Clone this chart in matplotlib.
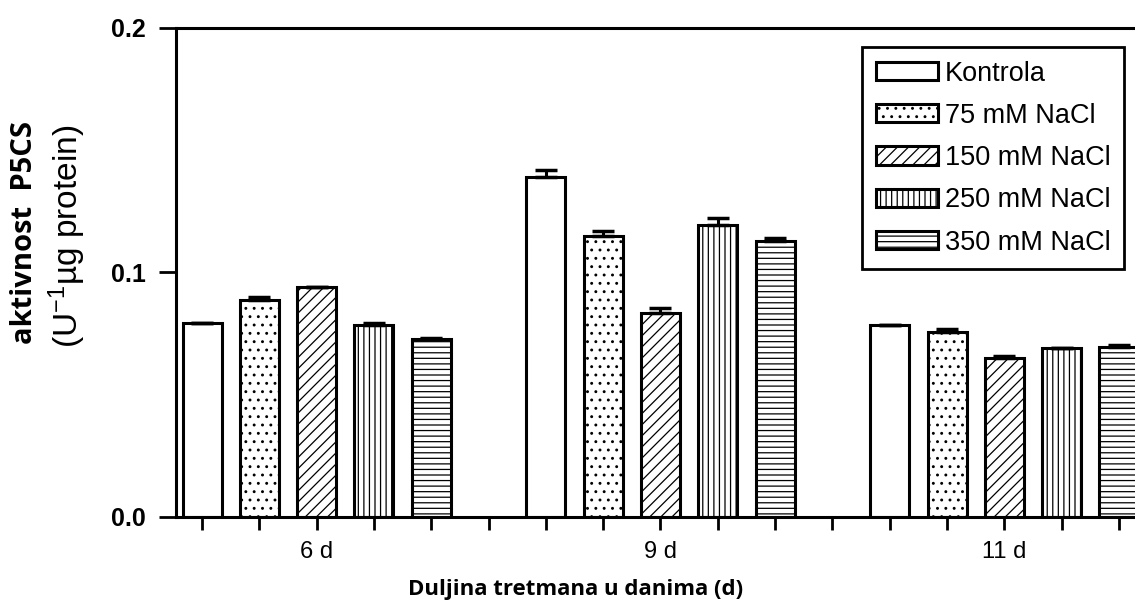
import numpy as np
import matplotlib.pyplot as plt

# ==========================================
# podaci
# ==========================================
dani = ['6 d', '9 d', '11 d']
tretmani = ['Kontrola', '75 mM NaCl', '150 mM NaCl', '250 mM NaCl', '350 mM NaCl']
uzorci = ['', '..', '///', '|||', '---']

# aktivnost P5CS po tretmanu (redom: 6 d, 9 d, 11 d)
kontrola = [0.0792, 0.1389, 0.0785]
nacl_75 = [0.0888, 0.1149, 0.0758]
nacl_150 = [0.0942, 0.0834, 0.0649]
nacl_250 = [0.0785, 0.1194, 0.0693]
nacl_350 = [0.0727, 0.1130, 0.0697]

# standardne greske
err_kontrola = [0.0, 0.003, 0.0]
err_75 = [0.001, 0.002, 0.001]
err_150 = [0.0, 0.002, 0.001]
err_250 = [0.001, 0.003, 0.0]
err_350 = [0.0007, 0.001, 0.0005]

vrijednosti = [kontrola, nacl_75, nacl_150, nacl_250, nacl_350]
greske = [err_kontrola, err_75, err_150, err_250, err_350]

# ==========================================
# crtanje
# ==========================================
plt.rcParams['font.family'] = ['Liberation Sans', 'DejaVu Sans']
plt.rcParams['hatch.linewidth'] = 0.9
plt.rcParams['mathtext.default'] = 'regular'

fig = plt.figure(figsize=(11.35, 6.15), dpi=100)
ax = fig.add_axes([176 / 1135, 98 / 615, (1135 - 176) / 1135, (517 - 28) / 615])

sirina = 0.68
n = len(tretmani)
for i in range(n):
    x = np.arange(len(dani)) * (n + 1) + i
    ax.bar(x, vrijednosti[i], width=sirina, color='white', edgecolor='black',
           linewidth=2.2, hatch=uzorci[i], label=tretmani[i], zorder=2)
    ax.errorbar(x, vrijednosti[i], yerr=[np.zeros(len(dani)), greske[i]],
                fmt='none', ecolor='black', elinewidth=2.2, capsize=8,
                capthick=2.5, zorder=3)

pozicije = np.arange(len(dani) * (n + 1) - 1)
ax.set_xticks(pozicije)
oznake = [''] * len(pozicije)
for j, d in enumerate(dani):
    oznake[j * (n + 1) + n // 2] = d
ax.set_xticklabels(oznake, fontsize=17)
ax.set_xlim(-0.454, 16.28)
ax.set_ylim(0, 0.2)
ax.set_yticks([0.0, 0.1, 0.2])
ax.set_yticklabels(['0.0', '0.1', '0.2'], fontsize=18, fontweight='bold')
ax.tick_params(axis='x', direction='out', length=9, width=2, pad=8)
ax.tick_params(axis='y', direction='out', length=12, width=2, pad=10)

ax.spines['right'].set_visible(False)
for s in ['left', 'top', 'bottom']:
    ax.spines[s].set_linewidth(2.2)

leg = ax.legend(loc='upper right', bbox_to_anchor=(1124 / 1135, 1 - 47 / 615),
                bbox_transform=fig.transFigure, borderaxespad=0, fontsize=19.5,
                fancybox=False, edgecolor='black', framealpha=1,
                handlelength=2.3, handleheight=0.65, handletextpad=0.25,
                labelspacing=0.6, borderpad=0.5)
leg.get_frame().set_linewidth(2)

fig.text(576 / 1135, 1 - 590 / 615, 'Duljina tretmana u danima (d)',
         ha='center', va='center', fontsize=16, fontweight='bold',
         family='Open Sans')
fig.text(25 / 1135, 1 - 232 / 615, 'aktivnost  P5CS', rotation=90,
         ha='center', va='center', fontsize=21, fontweight='bold',
         family='Open Sans')
fig.text(67 / 1135, 1 - 236 / 615, '(U$^{-1}$µg protein)', rotation=90,
         ha='center', va='center', fontsize=24)

fig.savefig('out.png', dpi=100)
